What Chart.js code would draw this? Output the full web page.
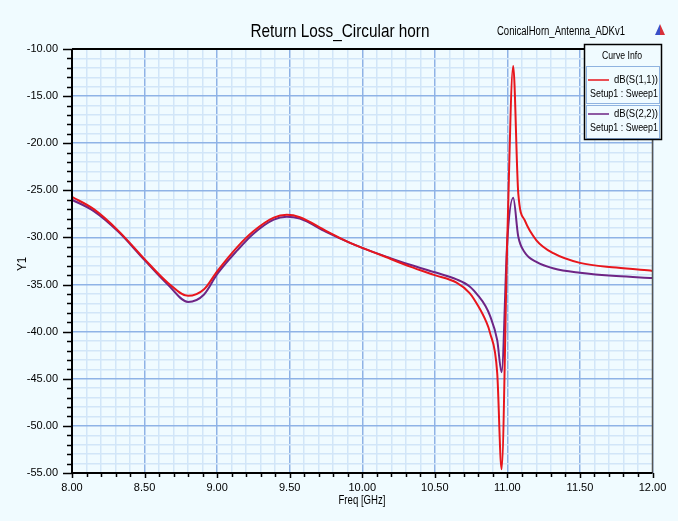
<!DOCTYPE html>
<html>
<head>
<meta charset="utf-8">
<script src="https://cdn.jsdelivr.net/npm/chart.js@4.4.1/dist/chart.umd.min.js"></script>
<style>
  html, body { margin: 0; padding: 0; background: #f0fbff; }
  #wrap { width: 678px; height: 521px; }
</style>
</head>
<body>
<div id="wrap"><canvas id="myChart" width="678" height="521"></canvas></div>
<script>
// Sample data
const freqs = [8.00, 8.15, 8.32, 8.50, 8.66, 8.80, 8.91, 9.00, 9.14, 9.25, 9.39, 9.48, 9.57, 9.75, 9.92,
  10.00, 10.15, 10.33, 10.50, 10.65, 10.74, 10.80, 10.85, 10.88, 10.93, 10.96, 11.00, 11.04, 11.075,
  11.12, 11.20, 11.32, 11.50, 11.75, 12.00];
const s11 = [-25.7, -27.0, -29.3, -32.3, -34.8, -36.2, -35.5, -33.6, -31.0, -29.35, -27.9, -27.6, -27.85, -29.3, -30.6,
  -31.1, -32.0, -33.1, -34.0, -34.8, -35.9, -37.3, -38.8, -40.1, -44.4, -54.6, -29.8, -11.8, -25.3,
  -28.2, -30.3, -31.7, -32.7, -33.2, -33.55];
const s22 = [-26.0, -27.2, -29.4, -32.4, -35.0, -36.85, -36.05, -33.9, -31.35, -29.6, -28.1, -27.8, -28.0, -29.4, -30.6,
  -31.1, -31.95, -32.9, -33.7, -34.45, -35.2, -36.2, -37.3, -38.3, -40.9, -44.3, -30.2, -25.8, -29.9,
  -31.6, -32.6, -33.3, -33.75, -34.1, -34.3];
const seriesNames = ['dB(S(1,1))', 'dB(S(2,2))'];
const setupName = 'Setup1 : Sweep1';
const seriesColors = ['#e8161c', '#6e2585'];

const FONT = '"Liberation Sans", Arial, sans-serif';

const isMajorX = v => Math.abs(Math.round(v * 10)) % 5 === 0;
const isMajorY = v => Math.abs(Math.round(v)) % 5 === 0;

// draws text squeezed horizontally to a given width (HFSS export looks condensed)
function fitText(ctx, text, x, y, size, width, align) {
    ctx.save();
    ctx.font = size + 'px ' + FONT;
    const w = ctx.measureText(text).width;
    const k = Math.min(1, width / w);
    let left = x;
    if (align === 'center') left = x - w * k / 2;
    if (align === 'right') left = x - w * k;
    ctx.translate(left, y);
    ctx.scale(k, 1);
    ctx.textAlign = 'left';
    ctx.textBaseline = 'middle';
    ctx.fillText(text, 0, 0);
    ctx.restore();
}

// background, frame, ticks, title and the "Curve Info" box
const hfssDecor = {
    id: 'hfssDecor',
    beforeDraw(chart) {
        const ctx = chart.ctx;
        ctx.save();
        ctx.fillStyle = '#f0fbff';
        ctx.fillRect(0, 0, chart.width, chart.height);
        ctx.restore();
    },
    afterDraw(chart) {
        const ctx = chart.ctx;
        const a = chart.chartArea;
        const xs = chart.scales.x, ys = chart.scales.y;
        ctx.save();

        // frame
        ctx.strokeStyle = '#555';
        ctx.lineWidth = 1.5;
        ctx.beginPath();
        ctx.moveTo(a.right, a.top); ctx.lineTo(a.right, a.bottom);
        ctx.stroke();
        ctx.strokeStyle = '#000';
        ctx.lineWidth = 2;
        ctx.beginPath();
        ctx.moveTo(a.left, a.top); ctx.lineTo(a.right, a.top);
        ctx.moveTo(a.left, a.top); ctx.lineTo(a.left, a.bottom); ctx.lineTo(a.right, a.bottom);
        ctx.stroke();

        // tick marks
        ctx.lineWidth = 1.5;
        ctx.beginPath();
        for (let i = 0; i <= 40; i++) {
            const v = 8 + i * 0.1;
            const px = Math.round(xs.getPixelForValue(v)) + 0.5;
            const len = isMajorX(v) ? 5 : 4;
            ctx.moveTo(px, a.bottom); ctx.lineTo(px, a.bottom + len);
        }
        for (let v = -55; v <= -10; v++) {
            const py = Math.round(ys.getPixelForValue(v)) + 0.5;
            const len = isMajorY(v) ? 9 : 5;
            ctx.moveTo(a.left, py); ctx.lineTo(a.left - len, py);
        }
        ctx.stroke();

        // title and project name
        ctx.fillStyle = '#000';
        fitText(ctx, 'Return Loss_Circular horn', 340, 32, 19, 179, 'center');
        fitText(ctx, 'ConicalHorn_Antenna_ADKv1', 561, 32, 12.5, 128, 'center');

        // small triangle icon
        ctx.fillStyle = '#3a4fc8';
        ctx.beginPath(); ctx.moveTo(660, 24); ctx.lineTo(655, 35); ctx.lineTo(660, 35); ctx.closePath(); ctx.fill();
        ctx.fillStyle = '#d8303a';
        ctx.beginPath(); ctx.moveTo(660, 24); ctx.lineTo(665, 35); ctx.lineTo(660, 35); ctx.closePath(); ctx.fill();

        // axis titles
        ctx.fillStyle = '#000';
        fitText(ctx, 'Freq [GHz]', 362, 501, 12, 47, 'center');
        ctx.save();
        ctx.translate(23, 264);
        ctx.rotate(-Math.PI / 2);
        fitText(ctx, 'Y1', 0, 0, 12, 14, 'center');
        ctx.restore();

        // legend box
        const bx = 584.5, by = 44.5, bw = 77, bh = 95;
        ctx.fillStyle = '#f0fbff';
        ctx.fillRect(bx, by, bw, bh);
        ctx.strokeStyle = '#8fb3e0';
        ctx.lineWidth = 1;
        ctx.strokeRect(bx + 2, 66.5, bw - 4, 37);
        ctx.strokeRect(bx + 2, 105.5, bw - 4, 33);
        ctx.strokeStyle = '#000';
        ctx.lineWidth = 1.5;
        ctx.strokeRect(bx, by, bw, bh);
        ctx.fillStyle = '#000';
        fitText(ctx, 'Curve Info', 622, 56.5, 10.5, 40, 'center');
        const rowY = [80, 114];
        seriesNames.forEach((name, i) => {
            const y0 = rowY[i];
            ctx.strokeStyle = seriesColors[i];
            ctx.lineWidth = 1.5;
            ctx.beginPath(); ctx.moveTo(588, y0); ctx.lineTo(609, y0); ctx.stroke();
            ctx.fillStyle = '#000';
            fitText(ctx, name, 658, y0, 11, 44, 'right');
            fitText(ctx, setupName, 658, y0 + 13.5, 11, 68, 'right');
        });
        ctx.restore();
    }
};

const config = {
    type: 'line',
    data: {
        datasets: seriesNames.map((name, i) => ({
            label: name,
            data: freqs.map((f, k) => ({ x: f, y: (i === 0 ? s11 : s22)[k] })),
            borderColor: seriesColors[i],
            borderWidth: 2,
            pointRadius: 0,
            cubicInterpolationMode: 'monotone',
            fill: false
        }))
    },
    options: {
        responsive: false,
        animation: false,
        layout: { padding: { top: 49, right: 25.5, left: 0, bottom: 0 } },
        plugins: { legend: { display: false }, tooltip: { enabled: false } },
        scales: {
            x: {
                type: 'linear',
                min: 8, max: 12,
                afterFit: s => { s.height = 48; },
                border: { display: false },
                grid: {
                    drawTicks: false,
                    lineWidth: 1.5,
                    color: c => isMajorX(c.tick.value) ? '#8fb3e6' : '#d2e6f8'
                },
                ticks: {
                    stepSize: 0.1,
                    autoSkip: false,
                    maxRotation: 0,
                    padding: 8,
                    color: '#000',
                    font: { family: FONT, size: 11 },
                    callback: v => isMajorX(v) ? Number(v).toFixed(2) : ''
                }
            },
            y: {
                min: -55, max: -10,
                afterFit: s => { s.width = 72; },
                border: { display: false },
                grid: {
                    drawTicks: false,
                    lineWidth: 1.5,
                    color: c => isMajorY(c.tick.value) ? '#8fb3e6' : '#d2e6f8'
                },
                ticks: {
                    stepSize: 1,
                    autoSkip: false,
                    padding: 14,
                    color: '#000',
                    font: { family: FONT, size: 11 },
                    callback: v => isMajorY(v) ? Number(v).toFixed(2) : ''
                }
            }
        }
    },
    plugins: [hfssDecor]
};

// Render the chart
var myChart = new Chart(document.getElementById('myChart'), config);
</script>
</body>
</html>
